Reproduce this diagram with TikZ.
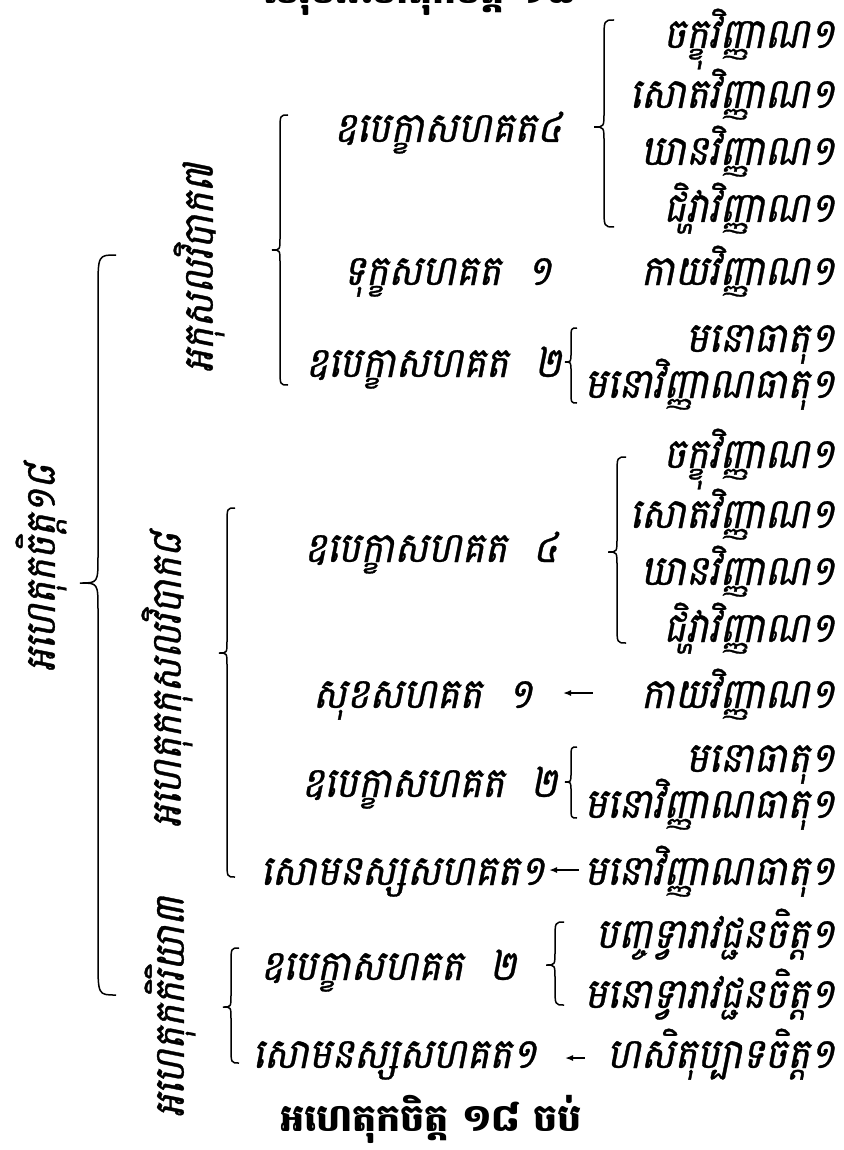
\documentclass[tikz,border=0pt]{standalone}
\usepackage{fontspec}
\usepackage{tikz}
\usetikzlibrary{arrows.meta}
\newfontfamily\kh[Script=Khmer,FakeSlant=0.2,FakeStretch=0.9,FakeBold=0.8]{Battambang}
\newfontfamily\khb[Script=Khmer]{Battambang}
\tikzset{
    kh/.style={font=\kh\fontsize{42}{44}\selectfont, inner sep=0pt},
    khtitle/.style={font=\khb\bfseries\fontsize{38}{40}\selectfont, inner sep=0pt},
    khside/.style={kh, rotate=90},
    bracel/.style={line width=1.5pt},
    back/.style={{Latex[length=8pt,width=6pt]}-, line width=1.5pt}
}
\newcommand\khbrace[5]{% line x, top, tip, bottom, half width
    \draw[bracel] (#1+#5,#2) .. controls (#1,#2) .. (#1,#2+2*#5) -- (#1,#3-1.5*#5)
        .. controls (#1,#3) .. (#1-#5,#3) .. controls (#1,#3) .. (#1,#3+1.5*#5)
        -- (#1,#4-2*#5) .. controls (#1,#4) .. (#1+#5,#4);}

\begin{document}
\begin{tikzpicture}[x=1pt,y=-1pt]
            \clip (0,0) rectangle (843,1150);
            \node[khtitle, anchor=base] (head) at (420,4) {សរុបអហេតុកចិត្ត ១៨};
            \node[khtitle, anchor=base] (foot) at (431,1131) {អហេតុកចិត្ត ១៨ ចប់};

            \node[khside] (root) at (41,568) {អហេតុកចិត្ត១៨};
            \node[khside] (akusal) at (199,268) {អកុសលវិបាក៧};
            \node[khside] (kusal) at (167,680) {អហេតុកកុសលវិបាក៨};
            \node[khside] (kiriya) at (170,1007) {អហេតុកកិរិយា៣};

            \khbrace{98}{255}{583}{995}{18}
            \khbrace{280}{115}{250}{385}{8}
            \khbrace{227}{508}{653}{877}{8}
            \khbrace{231}{948}{1007}{1063}{8}

            \node[kh, anchor=base east] (ubA) at (562,142) {ឧបេក្ខាសហគត៤};
            \node[kh, anchor=base east] (dukA) at (552,285) {ទុក្ខសហគត\ \ ១};
            \node[kh, anchor=base east] (ubA2) at (562,377) {ឧបេក្ខាសហគត\ \ ២};
            \node[kh, anchor=base east] (ubB) at (558,562) {ឧបេក្ខាសហគត\ \ ៤};
            \node[kh, anchor=base east] (sukB) at (533,708) {សុខសហគត\ \ ១};
            \node[kh, anchor=base east] (ubB2) at (558,797) {ឧបេក្ខាសហគត\ \ ២};
            \node[kh, anchor=base east] (somC) at (545,885) {សោមនស្សសហគត១};
            \node[kh, anchor=base east] (ubC) at (517,980) {ឧបេក្ខាសហគត\ \ ២};
            \node[kh, anchor=base east] (somD) at (537,1068) {សោមនស្សសហគត១};

            \khbrace{604}{20}{127}{227}{10}
            \khbrace{571}{328}{362}{403}{6}
            \khbrace{617}{457}{552}{643}{9}
            \khbrace{571}{747}{782}{818}{6}
            \khbrace{555}{922}{965}{1005}{9}

            \node[kh, anchor=base east] (cakA) at (835,48) {ចក្ខុវិញ្ញាណ១};
            \node[kh, anchor=base east] (sotA) at (835,108) {សោតវិញ្ញាណ១};
            \node[kh, anchor=base east] (ghanA) at (835,165) {ឃានវិញ្ញាណ១};
            \node[kh, anchor=base east] (jivA) at (835,222) {ជិវ្ហាវិញ្ញាណ១};
            \node[kh, anchor=base east] (kayA) at (835,285) {កាយវិញ្ញាណ១};
            \node[kh, anchor=base east] (mdhA) at (835,352) {មនោធាតុ១};
            \node[kh, anchor=base east] (mvdA) at (835,398) {មនោវិញ្ញាណធាតុ១};
            \node[kh, anchor=base east] (cakB) at (835,468) {ចក្ខុវិញ្ញាណ១};
            \node[kh, anchor=base east] (sotB) at (835,528) {សោតវិញ្ញាណ១};
            \node[kh, anchor=base east] (ghanB) at (835,585) {ឃានវិញ្ញាណ១};
            \node[kh, anchor=base east] (jivB) at (835,642) {ជិវ្ហាវិញ្ញាណ១};
            \node[kh, anchor=base east] (kayB) at (835,708) {កាយវិញ្ញាណ១};
            \node[kh, anchor=base east] (mdhB) at (835,772) {មនោធាតុ១};
            \node[kh, anchor=base east] (mvdB) at (835,818) {មនោវិញ្ញាណធាតុ១};
            \node[kh, anchor=base east] (mvdC) at (835,885) {មនោវិញ្ញាណធាតុ១};
            \node[kh, anchor=base east] (panca) at (835,948) {បញ្ចទ្វារាវជ្ជនចិត្ត១};
            \node[kh, anchor=base east] (manod) at (835,1008) {មនោទ្វារាវជ្ជនចិត្ត១};
            \node[kh, anchor=base east] (hasit) at (835,1068) {ហសិតុប្បាទចិត្ត១};

            \draw[back, shorten <=30pt] ([yshift=15pt]sukB.base east) -- ([yshift=15pt]sukB.base east -| kayB.west) [shorten >=48pt];
            \draw[back, shorten <=4pt, shorten >=5pt] ([yshift=15pt]somC.base east) -- ([yshift=15pt]mvdC.base west);
            \draw[back, shorten <=28pt, shorten >=22pt] ([yshift=10pt]somD.base east) -- ([yshift=10pt]hasit.base west);
\end{tikzpicture}
\end{document}
